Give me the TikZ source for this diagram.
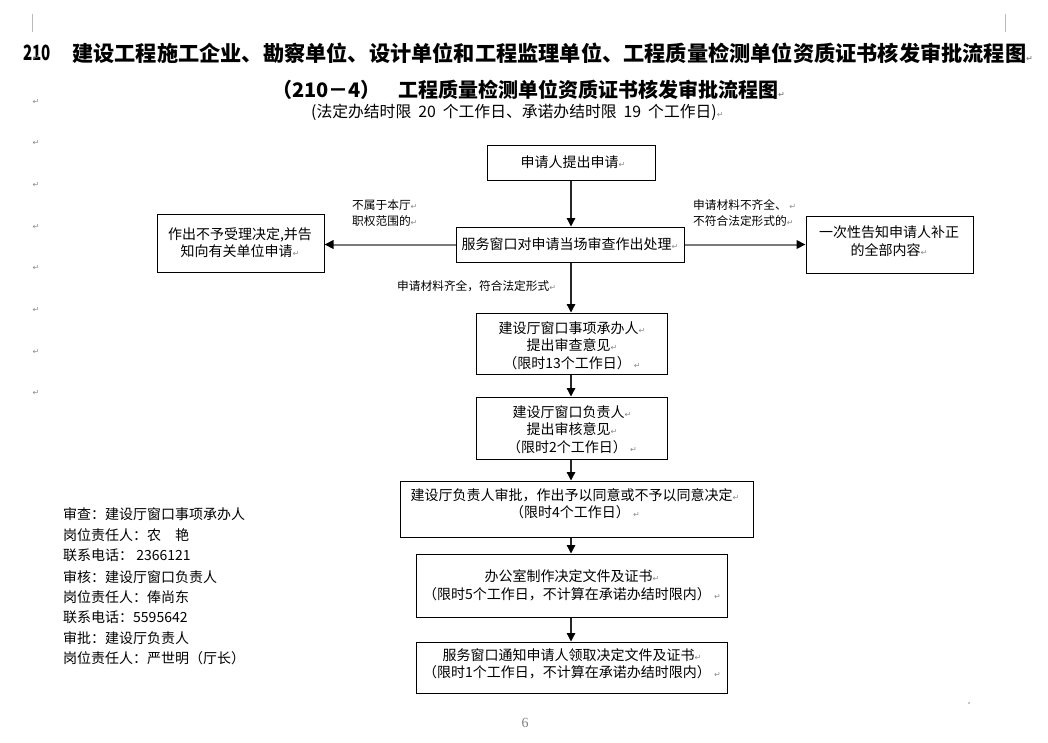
\documentclass[tikz,border=0pt]{standalone}
\usepackage{fontspec}
\usetikzlibrary{arrows.meta}
\setmainfont{Noto Sans CJK SC}
\newfontfamily\pmfont{DejaVu Sans}
\newfontfamily\numfont{Liberation Serif}
\definecolor{pmgray}{HTML}{8C8C8C}
\definecolor{lngray}{HTML}{7A7A7A}
\newcommand{\pmk}{{\pmfont\fontsize{8}{8}\selectfont\color{pmgray}↵}}
\newcommand{\wsp}{\hspace{7pt}}
\tikzset{
  boxnode/.style={draw=black, line width=1pt, rectangle, inner sep=0pt},
  txt/.style={font=\fontsize{14}{17.5}\selectfont, align=center, inner sep=0pt},
  lbl/.style={font=\fontsize{11.7}{16}\selectfont, align=left, inner sep=0pt, anchor=west},
  info/.style={font=\fontsize{14}{17}\selectfont, inner sep=0pt, anchor=west},
  arr/.style={draw=black!85, line width=1.3pt, -{Triangle[length=8.5pt,width=8.5pt,color=black]}},
  garr/.style={draw=lngray, line width=2pt, -{Triangle[length=9pt,width=8.5pt,color=black]}},
  pmnode/.style={inner sep=0pt, font=\pmfont\fontsize{8}{8}\selectfont, text=pmgray},
}
\begin{document}
\begin{tikzpicture}[x=1pt,y=-1pt]
\fill[white] (0,0) rectangle (1048,742);
\useasboundingbox (0,0) rectangle (1048,742);

% corner marks
\draw[gray!55, line width=1pt] (32,14) -- (32,32);
\draw[gray!55, line width=1pt] (1005,14) -- (1005,32);

% titles
\node[inner sep=0pt, anchor=west, font=\fontsize{21}{21}\selectfont\bfseries] (t1a) at (23,53) {\scalebox{0.72}[1]{210}};
\node[inner sep=0pt, anchor=west, font=\fontsize{21.2}{22}\selectfont\bfseries] (t1b) at (72,53)
  {建设工程施工企业、勘察单位、设计单位和工程监理单位、工程质量检测单位资质证书核发审批流程图\pmk};
\node[inner sep=0pt, anchor=west, font=\fontsize{20}{20}\selectfont\bfseries] (t2a) at (272,90) {（210－4）};
\node[inner sep=0pt, anchor=west, font=\fontsize{20}{20}\selectfont\bfseries] (t2b) at (398,90)
  {工程质量检测单位资质证书核发审批流程图\pmk};
\node[inner sep=0pt, anchor=west, font=\fontsize{15.8}{16}\selectfont] (sub) at (311,112)
  {(法定办结时限\wsp 20\wsp 个工作日、承诺办结时限\wsp 19\wsp 个工作日)\pmk};

% left-margin paragraph marks
\foreach \yy [count=\i] in {58,102,143,185,227,268,310,352,393}
  \node[pmnode] (pm\i) at (36,\yy) {↵};

% boxes
\node[boxnode, minimum width=168pt, minimum height=35pt] (b1) at (571,162.5) {};
\node[boxnode, minimum width=228pt, minimum height=35pt] (b2) at (570,244.5) {};
\node[boxnode, minimum width=167pt, minimum height=58pt] (bl) at (240.5,243) {};
\node[boxnode, minimum width=167pt, minimum height=57pt] (br) at (889.5,244.5) {};
\node[boxnode, minimum width=191pt, minimum height=61pt] (b3) at (571.5,343.5) {};
\node[boxnode, minimum width=191pt, minimum height=62pt] (b4) at (571.5,428) {};
\node[boxnode, minimum width=353pt, minimum height=56pt] (b5) at (576.5,509) {};
\node[boxnode, minimum width=311pt, minimum height=63pt] (b6) at (571.5,585.5) {};
\node[boxnode, minimum width=311pt, minimum height=51pt] (b7) at (571.5,667.5) {};

% box texts
\node[txt] (x1) at (573,162) {申请人提出申请\pmk};
\node[txt] (x2) at (570,244) {服务窗口对申请当场审查作出处理\pmk};
\node[txt] (xl) at (240,242.5) {作出不予受理决定,并告\\知向有关单位申请\pmk};
\node[txt] (xr) at (889,241) {一次性告知申请人补正\\的全部内容\pmk};
\node[txt] (x3) at (572,345.5) {建设厅窗口事项承办人\pmk\\提出审查意见\pmk\\（限时13个工作日） \pmk};
\node[txt] (x4) at (572,429.5) {建设厅窗口负责人\pmk\\提出审核意见\pmk\\（限时2个工作日） \pmk};
\node[txt] (x5) at (575,503.5) {建设厅负责人审批，作出予以同意或不予以同意决定\pmk\\（限时4个工作日） \pmk};
\node[txt] (x6) at (572,585.5) {办公室制作决定文件及证书\pmk\\（限时5个工作日，不计算在承诺办结时限内） \pmk};
\node[txt] (x7) at (572,664) {服务窗口通知申请人领取决定文件及证书\pmk\\（限时1个工作日，不计算在承诺办结时限内） \pmk};

% labels
\node[lbl] (lab1) at (352,213.5) {不属于本厅\pmk\\职权范围的\pmk};
\node[lbl] (lab2) at (693,213.5) {申请材料不齐全、 \pmk\\不符合法定形式的\pmk};
\node[lbl] (lab3) at (397,286) {申请材料齐全，符合法定形式\pmk};

% connectors
\draw[arr] (b1.south) -- (b1.south |- b2.north);
\draw[garr] (b2.west) -- (b2.west -| bl.east);
\draw[garr] (b2.east) -- (b2.east -| br.west);
\draw[arr] (b1.south |- b2.south) -- (b1.south |- b3.north);
\draw[arr] (b1.south |- b3.south) -- (b1.south |- b4.north);
\draw[arr] (b1.south |- b4.south) -- (b1.south |- b5.north);
\draw[arr] (b1.south |- b5.south) -- (b1.south |- b6.north);
\draw[arr] (b1.south |- b6.south) -- (b1.south |- b7.north);

% left info block
\foreach \yy/\tt [count=\i] in {514/审查：建设厅窗口事项承办人, 535/岗位责任人：农　艳, 555/联系电话： 2366121, 577/审核：建设厅窗口负责人, 597/岗位责任人：俸尚东, 617/联系电话：5595642, 638/审批：建设厅负责人, 658/岗位责任人：严世明（厅长）}
  \node[info] (l\i) at (63,\yy) {\tt};

% page number and dot
\node[inner sep=0pt, font=\numfont\fontsize{14}{14}\selectfont, text=gray] (pg) at (525,723) {6};
\fill[pmgray] (969,703) circle (0.8pt);
\end{tikzpicture}
\end{document}
